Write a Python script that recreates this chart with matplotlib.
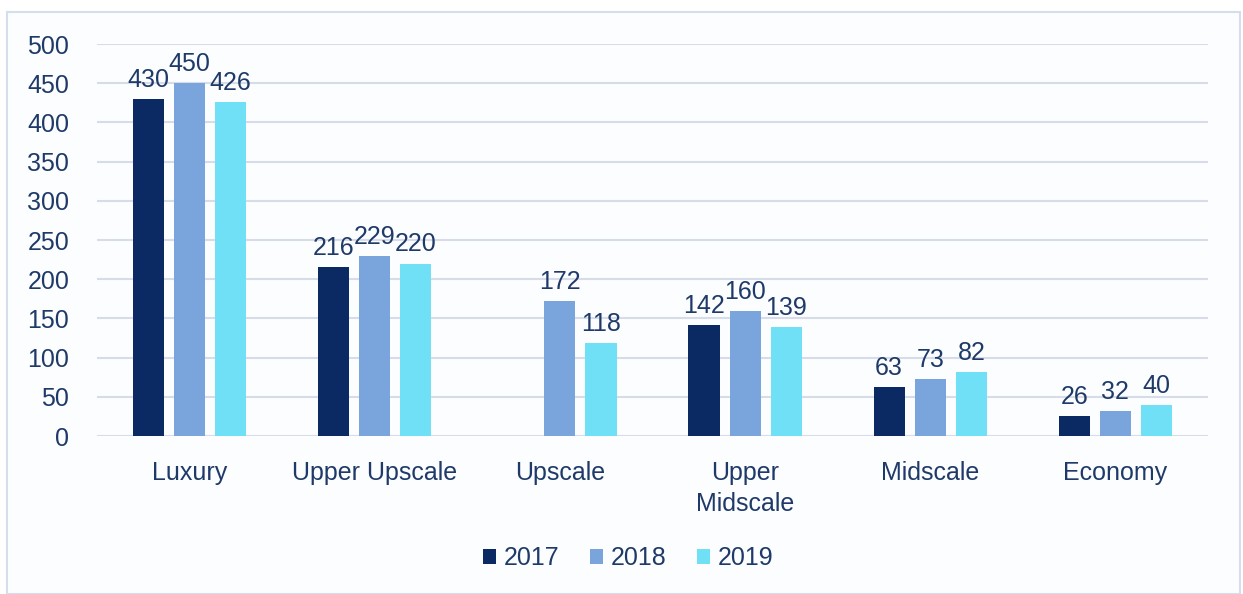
import numpy as np
import matplotlib.pyplot as plt
from matplotlib.patches import Rectangle

categories = ['Luxury', 'Upper Upscale', 'Upscale', 'Upper\nMidscale', 'Midscale', 'Economy']
years = ['2017', '2018', '2019']
values_2017 = [430, 216, np.nan, 142, 63, 26]
values_2018 = [450, 229, 172, 160, 73, 32]
values_2019 = [426, 220, 118, 139, 82, 40]
yticks = [0, 50, 100, 150, 200, 250, 300, 350, 400, 450, 500]

colors = ['#0b2a63', '#7aa5dc', '#6fe0f5']
text_color = '#1f3a68'

plt.rcParams['font.family'] = ['Liberation Sans', 'DejaVu Sans']

fig = plt.figure(figsize=(12.43, 5.94), dpi=100)
fig.patch.set_facecolor('white')

# light outer frame
frame = Rectangle((7 / 1243, 0), (1240 - 7) / 1243, 1 - 12 / 594,
                  transform=fig.transFigure, facecolor='#fbfdff',
                  edgecolor='#d5dfec', linewidth=1.5, zorder=-10)
fig.patches.append(frame)

ax = fig.add_axes([97 / 1243, 1 - 436 / 594, (1208 - 97) / 1243, (436 - 44) / 594])
ax.set_facecolor('none')

x = np.arange(len(categories))
width = 0.168
offset = 0.222
series = [values_2017, values_2018, values_2019]
for i, (vals, col, yr) in enumerate(zip(series, colors, years)):
    pos = x + (i - 1) * offset
    ax.bar(pos, vals, width, color=col, label=yr, zorder=3)
    for p, v in zip(pos, vals):
        if np.isnan(v):
            continue
        ax.text(p, v + 9, f'{v:.0f}', ha='center', va='bottom',
                fontsize=18, color=text_color)

ax.set_xlim(-0.5, len(categories) - 0.5)
ax.set_ylim(0, 500)
ax.set_yticks(yticks)
ax.yaxis.grid(True, color='#d6dde8', linewidth=1.5, zorder=0)
ax.set_axisbelow(True)
for s in ax.spines.values():
    s.set_visible(False)
ax.tick_params(axis='both', length=0, labelsize=18, labelcolor=text_color)
ax.tick_params(axis='y', pad=20)
ax.tick_params(axis='x', pad=18)
ax.set_xticks(x)
ax.set_xticklabels(categories, linespacing=1.38)

leg = fig.legend(loc='center', bbox_to_anchor=(628 / 1243, 1 - 558 / 594), ncol=3,
                 frameon=False, fontsize=18, handlelength=0.55, handleheight=0.55,
                 handletextpad=0.3, columnspacing=1.2)
for t in leg.get_texts():
    t.set_color(text_color)

fig.savefig('out.png', dpi=100, facecolor='white')
